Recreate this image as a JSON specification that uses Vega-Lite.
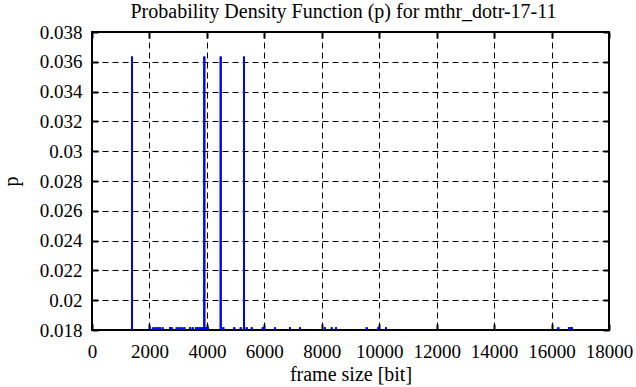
{
  "$schema": "https://vega.github.io/schema/vega-lite/v6.json",
  "width": 517,
  "height": 298,
  "autosize": "none",
  "padding": {"left": 92, "top": 32, "right": 27, "bottom": 57},
  "background": "white",
  "config": {
    "font": "Liberation Serif",
    "view": {"stroke": "black", "strokeWidth": 2},
    "axis": {"labelFont": "Liberation Serif", "titleFont": "Liberation Serif", "labelFontSize": 19, "titleFontSize": 20, "labelColor": "black", "titleColor": "black", "titleFontWeight": "normal", "tickColor": "black", "domain": false, "labelOverlap": false}
  },
  "title": {"text": "Probability Density Function (p) for mthr_dotr-17-11", "font": "Liberation Serif", "fontSize": 20, "fontWeight": "normal", "color": "black", "offset": 1, "dx": -7},
  "data": {"values": [
    {"size": 1393, "p": 0.036364},
    {"size": 2020, "p": 0.018182},
    {"size": 2134, "p": 0.018182},
    {"size": 2218, "p": 0.018182},
    {"size": 2288, "p": 0.018182},
    {"size": 2368, "p": 0.018182},
    {"size": 2462, "p": 0.018182},
    {"size": 2716, "p": 0.018182},
    {"size": 2775, "p": 0.018182},
    {"size": 2949, "p": 0.018182},
    {"size": 3040, "p": 0.018182},
    {"size": 3123, "p": 0.018182},
    {"size": 3214, "p": 0.018182},
    {"size": 3412, "p": 0.018182},
    {"size": 3506, "p": 0.018182},
    {"size": 3621, "p": 0.018182},
    {"size": 3691, "p": 0.018182},
    {"size": 3760, "p": 0.018182},
    {"size": 3830, "p": 0.018182},
    {"size": 3910, "p": 0.036364},
    {"size": 3969, "p": 0.018182},
    {"size": 4039, "p": 0.018182},
    {"size": 4481, "p": 0.036364},
    {"size": 4572, "p": 0.018182},
    {"size": 4955, "p": 0.018182},
    {"size": 5178, "p": 0.018182},
    {"size": 5292, "p": 0.036364},
    {"size": 5386, "p": 0.018182},
    {"size": 5560, "p": 0.018182},
    {"size": 5944, "p": 0.018182},
    {"size": 5989, "p": 0.018182},
    {"size": 6372, "p": 0.018182},
    {"size": 6894, "p": 0.018182},
    {"size": 7242, "p": 0.018182},
    {"size": 8113, "p": 0.018182},
    {"size": 8346, "p": 0.018182},
    {"size": 8496, "p": 0.018182},
    {"size": 9565, "p": 0.018182},
    {"size": 9969, "p": 0.018182},
    {"size": 10237, "p": 0.018182},
    {"size": 16236, "p": 0.018182},
    {"size": 16609, "p": 0.018182},
    {"size": 16660, "p": 0.018182},
    {"size": 16713, "p": 0.018182}
  ]},
  "layer": [
    {
      "mark": {"type": "rule", "color": "#0000ff", "strokeWidth": 2, "clip": true},
      "encoding": {
        "x": {"field": "size", "type": "quantitative", "scale": {"domain": [0, 18000], "nice": false}, "title": "frame size [bit]",
              "axis": {"orient": "bottom", "values": [0,2000,4000,6000,8000,10000,12000,14000,16000,18000], "format": "d", "labelOverlap": false, "labelFlush": false, "tickSize": -6, "tickWidth": 2, "labelPadding": 18, "grid": true, "gridColor": "black", "gridDash": [6,4], "gridWidth": 1, "gridOpacity": 1, "titlePadding": 3}},
        "y": {"field": "p", "type": "quantitative", "scale": {"domain": [0.018, 0.038], "nice": false, "zero": false}, "title": "p",
              "axis": {"orient": "left", "values": [0.018,0.02,0.022,0.024,0.026,0.028,0.03,0.032,0.034,0.036,0.038], "format": ".3~f", "labelOverlap": false, "labelFlush": false, "tickSize": -6, "tickWidth": 2, "labelPadding": 16, "grid": true, "gridColor": "black", "gridDash": [6,4], "gridWidth": 1, "gridOpacity": 1, "titlePadding": 18}},
        "y2": {"datum": 0.018}
      }
    },
    {
      "mark": {"type": "rule", "color": "#0000ff", "strokeWidth": 2, "clip": true},
      "encoding": {
        "x": {"field": "size", "type": "quantitative", "scale": {"domain": [0, 18000], "nice": false},
              "axis": {"orient": "top", "values": [0,2000,4000,6000,8000,10000,12000,14000,16000,18000], "labels": false, "title": null, "tickSize": -6, "tickWidth": 2, "grid": false}},
        "y": {"field": "p", "type": "quantitative", "scale": {"domain": [0.018, 0.038], "nice": false, "zero": false},
              "axis": {"orient": "right", "values": [0.018,0.02,0.022,0.024,0.026,0.028,0.03,0.032,0.034,0.036,0.038], "labels": false, "title": null, "tickSize": -6, "tickWidth": 2, "grid": false}},
        "y2": {"datum": 0.018}
      }
    }
  ],
  "resolve": {"axis": {"x": "independent", "y": "independent"}}
}
